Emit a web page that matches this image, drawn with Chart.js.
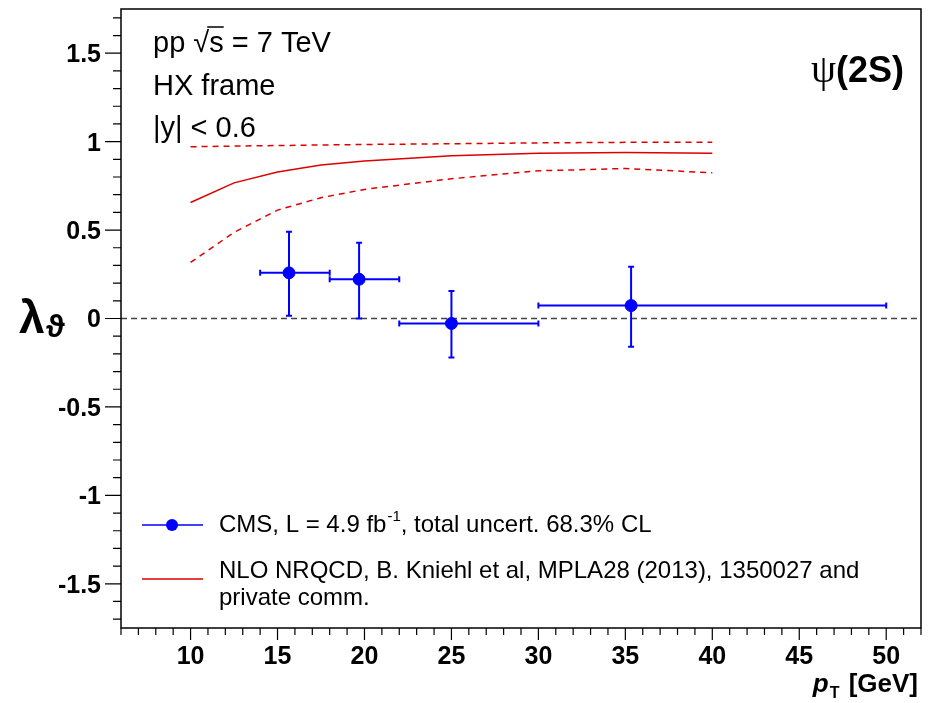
<!DOCTYPE html>
<html>
<head>
<meta charset="utf-8">
<script src="https://cdn.jsdelivr.net/npm/chart.js@4"></script>
<style>
  html, body { margin: 0; padding: 0; background: #fff; }
  #wrap { width: 932px; height: 703px; }
</style>
</head>
<body>
<div id="wrap"><canvas id="grafico"></canvas></div>
<script>
// CMS measurement (points, pT bins, total uncertainty band edges)
const cmsPt = [15.66, 19.69, 25.0, 35.33];
const cmsLambda = [0.258, 0.222, -0.028, 0.073];
const cmsPtLow = [14, 18, 22, 30];
const cmsPtHigh = [18, 22, 30, 50];
const cmsLambdaHigh = [0.49, 0.428, 0.155, 0.292];
const cmsLambdaLow = [0.015, 0.0, -0.22, -0.16];

// NLO NRQCD prediction
const nloPt = [10, 12.5, 15, 17.5, 20, 25, 30, 35, 40];
const nloCentral = [0.656, 0.767, 0.828, 0.868, 0.89, 0.92, 0.935, 0.938, 0.935];
const nloUpper = [0.971, 0.975, 0.978, 0.981, 0.984, 0.988, 0.993, 0.996, 0.996];
const nloLower = [0.317, 0.487, 0.613, 0.683, 0.73, 0.79, 0.835, 0.848, 0.824];

const xTicks = [10, 15, 20, 25, 30, 35, 40, 45, 50];
const yTicks = [-1.5, -1, -0.5, 0, 0.5, 1, 1.5];

const azul = '#0000ff';
const rojo = '#dd0000';
const sans = '"Liberation Sans", Arial, sans-serif';

const toXY = (xs, ys) => xs.map((x, i) => ({ x: x, y: ys[i] }));

// ejes, marco, linea en cero, barras de error y textos
const decoracion = {
    id: 'decoracion',
    beforeDatasetsDraw(chart) {
        const ctx = chart.ctx;
        const a = chart.chartArea;
        const xs = chart.scales.x, ys = chart.scales.y;
        ctx.save();
        // zero line
        ctx.strokeStyle = '#444';
        ctx.lineWidth = 1.3;
        ctx.setLineDash([6, 4]);
        ctx.beginPath();
        ctx.moveTo(a.left, ys.getPixelForValue(0));
        ctx.lineTo(a.right, ys.getPixelForValue(0));
        ctx.stroke();
        ctx.setLineDash([]);

        // error bars
        ctx.strokeStyle = azul;
        ctx.lineWidth = 2;
        cmsPt.forEach((pt, i) => {
            const px = xs.getPixelForValue(pt), py = ys.getPixelForValue(cmsLambda[i]);
            const x1 = xs.getPixelForValue(cmsPtLow[i]), x2 = xs.getPixelForValue(cmsPtHigh[i]);
            const y1 = ys.getPixelForValue(cmsLambdaHigh[i]), y2 = ys.getPixelForValue(cmsLambdaLow[i]);
            ctx.beginPath();
            ctx.moveTo(x1, py); ctx.lineTo(x2, py);
            ctx.moveTo(px, y1); ctx.lineTo(px, y2);
            ctx.moveTo(x1, py - 3); ctx.lineTo(x1, py + 3);
            ctx.moveTo(x2, py - 3); ctx.lineTo(x2, py + 3);
            ctx.moveTo(px - 3, y1); ctx.lineTo(px + 3, y1);
            ctx.moveTo(px - 3, y2); ctx.lineTo(px + 3, y2);
            ctx.stroke();
        });
        ctx.restore();
    },
    afterDraw(chart) {
        const ctx = chart.ctx;
        const a = chart.chartArea;
        const xs = chart.scales.x, ys = chart.scales.y;
        ctx.save();
        // frame
        ctx.strokeStyle = '#000';
        ctx.lineWidth = 1.5;
        ctx.strokeRect(a.left, a.top, a.right - a.left, a.bottom - a.top);

        // ticks (outside)
        ctx.lineWidth = 1.2;
        ctx.beginPath();
        for (let v = 6; v <= 52; v += 1) {
            const px = xs.getPixelForValue(v);
            const len = (v % 5 === 0) ? 12 : 7;
            ctx.moveTo(px, a.bottom); ctx.lineTo(px, a.bottom + len);
        }
        for (let k = -17; k <= 17; k++) {
            const py = ys.getPixelForValue(k / 10);
            const len = (k % 5 === 0) ? 16 : 8;
            ctx.moveTo(a.left, py); ctx.lineTo(a.left - len, py);
        }
        ctx.stroke();

        // top-left text
        ctx.fillStyle = '#000';
        ctx.textBaseline = 'alphabetic';
        ctx.textAlign = 'left';
        ctx.font = '29px ' + sans;
        let x0 = 153;
        ctx.fillText('pp \u221As = 7 TeV', x0, 52);
        const wPre = ctx.measureText('pp \u221A').width;
        const wS = ctx.measureText('s').width;
        ctx.lineWidth = 1.5;
        ctx.beginPath();
        ctx.moveTo(x0 + wPre - 2, 27); ctx.lineTo(x0 + wPre + wS, 27);
        ctx.stroke();
        ctx.fillText('HX frame', x0, 95);
        ctx.fillText('|y| < 0.6', x0, 137);

        // psi(2S)
        ctx.textAlign = 'right';
        ctx.font = 'bold 36px ' + sans;
        const w2s = ctx.measureText('(2S)').width;
        ctx.fillText('(2S)', 904, 82);
        ctx.font = '40px "Liberation Serif", "DejaVu Serif", serif';
        ctx.fillText('\u03C8', 904 - w2s, 82);

        // y title
        ctx.textAlign = 'left';
        ctx.font = 'bold 46px ' + sans;
        ctx.fillText('\u03BB', 19, 333);
        ctx.font = 'bold 32px ' + sans;
        ctx.fillText('\u03D1', 46, 337);

        // x title
        ctx.textAlign = 'right';
        ctx.font = 'bold 26px ' + sans;
        ctx.fillText(' [GeV]', 918, 692);
        const wGev = ctx.measureText(' [GeV]').width;
        ctx.font = 'bold 16px ' + sans;
        ctx.fillText('T', 918 - wGev - 2, 698);
        const wT = ctx.measureText('T').width;
        ctx.font = 'italic bold 26px ' + sans;
        ctx.fillText('p', 918 - wGev - wT - 3, 692);

        // legend
        ctx.textAlign = 'left';
        ctx.strokeStyle = azul;
        ctx.lineWidth = 1.5;
        ctx.beginPath();
        ctx.moveTo(142, 525); ctx.lineTo(203, 525);
        ctx.stroke();
        ctx.fillStyle = azul;
        ctx.beginPath();
        ctx.arc(172, 525, 6, 0, Math.PI * 2);
        ctx.fill();
        ctx.strokeStyle = rojo;
        ctx.beginPath();
        ctx.moveTo(142, 579); ctx.lineTo(203, 579);
        ctx.stroke();

        ctx.fillStyle = '#000';
        ctx.font = '24px ' + sans;
        let tx = 219;
        ctx.fillText('CMS, L = 4.9 fb', tx, 532);
        tx += ctx.measureText('CMS, L = 4.9 fb').width;
        ctx.font = '15px ' + sans;
        ctx.fillText('-1', tx + 1, 521);
        tx += ctx.measureText('-1').width + 1;
        ctx.font = '24px ' + sans;
        ctx.fillText(', total uncert. 68.3% CL', tx, 532);
        ctx.fillText('NLO NRQCD, B. Kniehl et al, MPLA28 (2013), 1350027 and', 219, 578);
        ctx.fillText('private comm.', 219, 605);
        ctx.restore();
    }
};

new Chart(document.getElementById('grafico'), {
    type: 'scatter',
    data: {
        datasets: [{
            label: 'CMS',
            data: toXY(cmsPt, cmsLambda),
            backgroundColor: azul,
            borderColor: azul,
            pointRadius: 6,
            pointHoverRadius: 6,
            order: 0
        }, {
            label: 'NLO central',
            type: 'line',
            data: toXY(nloPt, nloCentral),
            borderColor: rojo,
            borderWidth: 1.5,
            pointRadius: 0,
            tension: 0,
            fill: false,
            order: 1
        }, {
            label: 'NLO upper',
            type: 'line',
            data: toXY(nloPt, nloUpper),
            borderColor: rojo,
            borderWidth: 1.5,
            borderDash: [6, 5],
            pointRadius: 0,
            tension: 0,
            fill: false,
            order: 1
        }, {
            label: 'NLO lower',
            type: 'line',
            data: toXY(nloPt, nloLower),
            borderColor: rojo,
            borderWidth: 1.5,
            borderDash: [6, 5],
            pointRadius: 0,
            tension: 0,
            fill: false,
            order: 1
        }]
    },
    options: {
        responsive: true,
        maintainAspectRatio: false,
        animation: false,
        layout: { padding: { left: 0, right: 11, top: 9, bottom: 0 } },
        plugins: {
            legend: { display: false },
            tooltip: { enabled: false }
        },
        scales: {
            x: {
                type: 'linear',
                min: 6,
                max: 52,
                afterBuildTicks: s => { s.ticks = xTicks.map(v => ({ value: v })); },
                afterFit: s => { s.height = 75; s.paddingLeft = 0; s.paddingRight = 0; },
                grid: { display: false, drawTicks: false },
                border: { display: false },
                ticks: {
                    padding: 14,
                    maxRotation: 0,
                    color: '#000',
                    font: { family: sans, size: 25, weight: 'bold' },
                    callback: v => String(v)
                }
            },
            y: {
                type: 'linear',
                min: -1.75,
                max: 1.75,
                afterBuildTicks: s => { s.ticks = yTicks.map(v => ({ value: v })); },
                afterFit: s => { s.width = 121; s.paddingTop = 0; s.paddingBottom = 0; },
                grid: { display: false, drawTicks: false },
                border: { display: false },
                ticks: {
                    padding: 20,
                    labelOffset: 2,
                    color: '#000',
                    font: { family: sans, size: 25, weight: 'bold' },
                    callback: v => String(v)
                }
            }
        }
    },
    plugins: [decoracion]
});
</script>
</body>
</html>
